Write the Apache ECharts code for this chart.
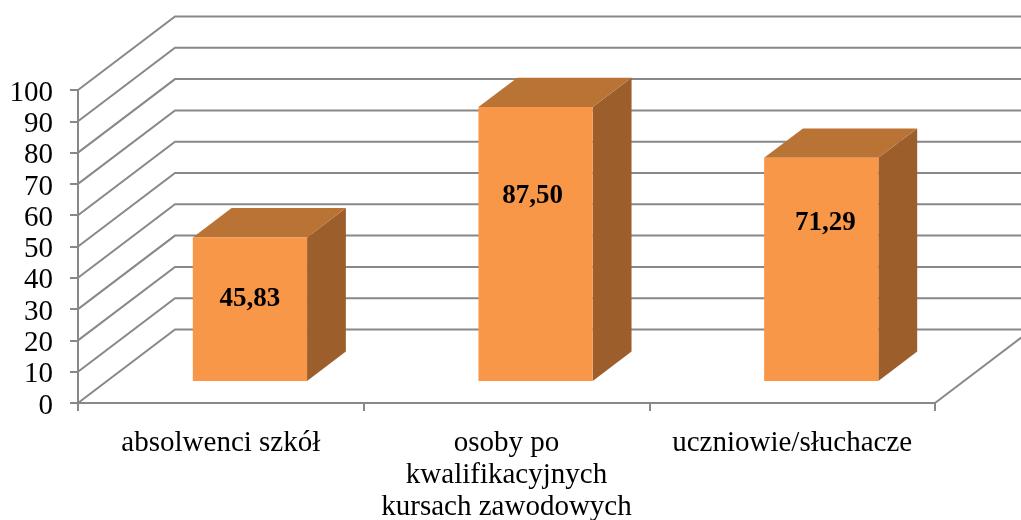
<!DOCTYPE html>
<html>
<head>
<meta charset="utf-8">
<style>
  html, body { margin: 0; padding: 0; background: #fff; }
  #chart { width: 1021px; height: 520px; }
</style>
<script src="https://cdn.jsdelivr.net/npm/echarts@6/dist/echarts.min.js"></script>
</head>
<body>
<div id="chart"></div>
<script>
const categories = ["absolwenci szkół", "osoby po\nkwalifikacyjnych\nkursach zawodowych", "uczniowie/słuchacze"];
const values = [45.83, 87.5, 71.29];
const gridValues = [0, 10, 20, 30, 40, 50, 60, 70, 80, 90, 100];

// labels were placed by hand in the original, so they don't sit mid-bar
const labelNudge = [[0, -10], [-3, -48], [4, -46]];

// fake 3d: how far the back wall sits from the front plane
const depthX = 97;
const depthY = 73.5;
const barStart = 0.3;  // bar front, as a share of the depth
const barDepth = 0.4;
const barWidth = 0.4;  // share of the category band

const font = '"Liberation Serif", "Times New Roman", serif';
const gridColor = "#888888";
const lineStyle = { fill: null, stroke: gridColor, lineWidth: 2 };

function renderWall(params, api) {
  const rect = params.coordSys;
  const y = api.coord([0, api.value(1)])[1];
  const children = [
    {
      type: "polyline",
      shape: {
        points: [
          [rect.x, y],
          [rect.x + depthX, y - depthY],
          [rect.x + rect.width + depthX, y - depthY]
        ]
      },
      style: lineStyle
    }
  ];
  // right edge of the floor
  if (api.value(1) === 0) {
    children.push({
      type: "line",
      shape: {
        x1: rect.x + rect.width,
        y1: y,
        x2: rect.x + rect.width + depthX,
        y2: y - depthY
      },
      style: lineStyle
    });
  }
  return { type: "group", children: children };
}

function renderBar(params, api) {
  const i = api.value(0);
  const band = api.size([1, 0])[0];
  const w = band * barWidth;
  const top = api.coord([i, api.value(1)]);
  const base = api.coord([i, 0]);
  const x0 = top[0] - w / 2 + depthX * barStart;
  const x1 = x0 + w;
  const y0 = top[1] - depthY * barStart;
  const y1 = base[1] - depthY * barStart;
  const dx = depthX * barDepth;
  const dy = depthY * barDepth;
  const nudge = labelNudge[params.dataIndex];
  return {
    type: "group",
    children: [
      {
        type: "polygon",
        shape: { points: [[x1, y0], [x1 + dx, y0 - dy], [x1 + dx, y1 - dy], [x1, y1]] },
        style: { fill: "#9C5F2B" }
      },
      {
        type: "polygon",
        shape: { points: [[x0, y0], [x0 + dx, y0 - dy], [x1 + dx, y0 - dy], [x1, y0]] },
        style: { fill: "#B97335" }
      },
      {
        type: "rect",
        shape: { x: x0, y: y0, width: w, height: y1 - y0 },
        style: { fill: "#F99748" }
      },
      {
        type: "text",
        style: {
          text: api.value(1).toFixed(2).replace(".", ","),
          x: (x0 + x1) / 2 + nudge[0],
          y: (y0 + y1) / 2 + nudge[1],
          align: "center",
          verticalAlign: "middle",
          font: "bold 27px " + font,
          fill: "#000"
        }
      }
    ]
  };
}

const chart = echarts.init(document.getElementById("chart"), null, { renderer: "canvas" });

chart.setOption({
  animation: false,
  backgroundColor: "#fff",
  grid: { left: 78, right: 86, top: 90, bottom: 117, outerBoundsMode: "none" },
  xAxis: {
    type: "category",
    data: categories,
    axisLine: { lineStyle: { color: gridColor, width: 2 } },
    axisTick: { show: true, alignWithLabel: false, length: 8, lineStyle: { color: gridColor, width: 2 } },
    axisLabel: {
      interval: 0,
      margin: 24,
      fontFamily: font,
      fontSize: 29,
      lineHeight: 32,
      color: "#000"
    }
  },
  yAxis: {
    type: "value",
    min: 0,
    max: 100,
    interval: 10,
    splitLine: { show: false },
    axisLine: { show: true, lineStyle: { color: gridColor, width: 2 } },
    axisTick: { show: true, length: 8, lineStyle: { color: gridColor, width: 2 } },
    axisLabel: {
      margin: 25,
      verticalAlign: "top",
      lineHeight: 6,
      fontFamily: font,
      fontSize: 29,
      color: "#000"
    }
  },
  series: [
    {
      type: "custom",
      silent: true,
      z: 1,
      renderItem: renderWall,
      data: gridValues.map((v) => [0, v]),
      encode: { x: 0, y: 1 }
    },
    {
      type: "custom",
      silent: true,
      z: 2,
      renderItem: renderBar,
      data: values.map((v, i) => [i, v]),
      encode: { x: 0, y: 1 }
    }
  ]
});
</script>
</body>
</html>
